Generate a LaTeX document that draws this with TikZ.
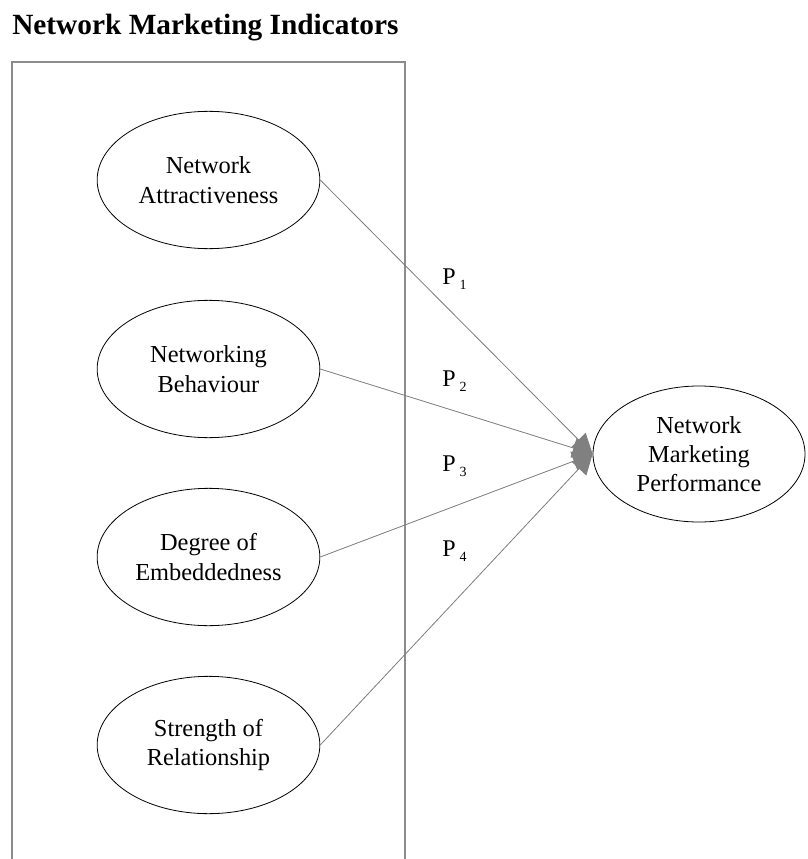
\documentclass[tikz,border=0pt]{standalone}
\usepackage{fontspec}
\setmainfont{Liberation Serif}
\usetikzlibrary{shapes.geometric,arrows.meta}
\tikzset{
  construct/.style={ellipse, draw=black, line width=0.6pt, minimum width=167pt, minimum height=103pt,
    inner sep=0pt, align=center, font=\fontsize{18.3}{22}\selectfont},
  link/.style={draw=gray, line width=0.6pt, -{Triangle[length=15pt,width=15pt]}, fill=gray},
  plabel/.style={font=\fontsize{18}{22}\selectfont, inner sep=0pt},
  frame/.style={draw=gray!90, line width=1.2pt}
}
\newcommand{\pl}[1]{P\hspace{3pt}\raisebox{-3.5pt}{\fontsize{10.5}{10.5}\selectfont #1}}
\begin{document}
\begin{tikzpicture}[x=0.75pt,y=-0.75pt]
\useasboundingbox (0,0) rectangle (807,859);
\node[anchor=base west, inner sep=0pt, font=\fontsize{22}{24}\bfseries\selectfont] (title) at (12,35) {Network Marketing Indicators};
\coordinate (fbl) at (12,860);
\coordinate (ftl) at (12,62);
\coordinate (ftr) at (405,62);
\coordinate (fbr) at (405,860);
\draw[frame] (fbl) -- (ftl) -- (ftr) -- (fbr);
\node[construct] (na) at (208.5,180) {Network\\Attractiveness};
\node[construct] (nb) at (208.5,369) {Networking\\Behaviour};
\node[construct] (de) at (208.5,557) {Degree of\\Embeddedness};
\node[construct] (sr) at (208.5,745) {Strength of\\Relationship};
\node[construct, minimum width=159pt, minimum height=102pt] (nmp) at (699,454) {Network\\Marketing\\Performance};
\path[link] (na.east) -- (nmp.west);
\path[link] (nb.east) -- (nmp.west);
\path[link] (de.east) -- (nmp.west);
\path[link] (sr.east) -- (nmp.west);
\node[plabel, anchor=west] (p1) at (442,279) {\pl{1}};
\node[plabel, anchor=west] (p2) at (442,381) {\pl{2}};
\node[plabel, anchor=west] (p3) at (442,466) {\pl{3}};
\node[plabel, anchor=west] (p4) at (442,551) {\pl{4}};
\end{tikzpicture}
\end{document}
